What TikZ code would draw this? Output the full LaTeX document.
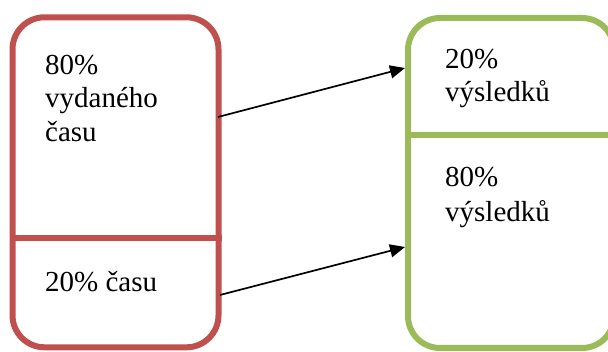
\documentclass[tikz,border=0pt]{standalone}
\usepackage{fontspec}
\setmainfont{Liberation Serif}
\usetikzlibrary{arrows.meta}
\definecolor{boxred}{HTML}{C0504D}
\definecolor{boxgreen}{HTML}{9BBB59}
\tikzset{
  part/.style={draw, line width=6pt, rounded corners=32pt, inner sep=0pt, minimum width=206pt, minimum height=330pt},
  divider/.style={line width=6pt},
  label/.style={anchor=base west, inner sep=0pt, font=\fontsize{29}{33}\selectfont, align=left},
  link/.style={line width=1.7pt, -{Triangle[length=15pt,width=13pt]}}
}
\begin{document}
\begin{tikzpicture}[x=1pt,y=-1pt]
\useasboundingbox (0,0) rectangle (608,352);
\clip (0,0) rectangle (608,352);
\node[part, draw=boxred] (L) at (115.5,182.3) {};
\node[part, draw=boxgreen] (R) at (511,183) {};
\draw[divider, boxred] (L.west |- 0,238) coordinate (ld1) -- (L.east |- 0,238) coordinate (ld2);
\draw[divider, boxgreen] (R.west |- 0,135) coordinate (rd1) -- (R.east |- 0,135) coordinate (rd2);
\node[label] (t1) at (45,75) {80\%};
\node[label] (t2) at (45,108) {vydaného};
\node[label] (t3) at (45,142) {času};
\node[label] (t4) at (45,292) {20\% času};
\node[label] (t5) at (445,69) {20\%};
\node[label] (t6) at (445,102) {výsledků};
\node[label] (t7) at (445,187) {80\%};
\node[label] (t8) at (445,222) {výsledků};
\coordinate (a1) at (218,117);
\coordinate (b1) at (405,68);
\coordinate (a2) at (220,295);
\coordinate (b2) at (405,247);
\draw[link] (a1) -- (b1);
\draw[link] (a2) -- (b2);
\end{tikzpicture}
\end{document}
